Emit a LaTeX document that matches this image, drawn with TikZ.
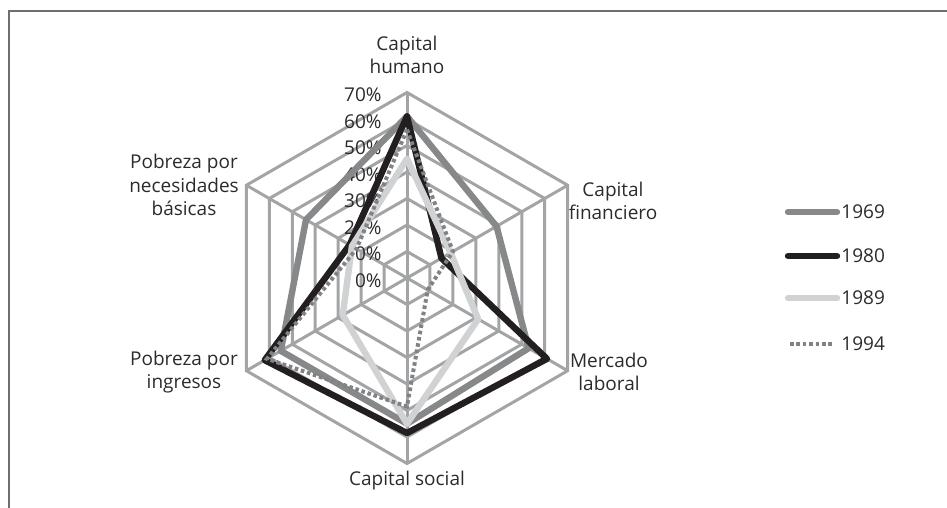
\documentclass[tikz,border=0pt]{standalone}
\usepackage{fontspec}
\setmainfont{Open Sans}
\usetikzlibrary{positioning}

\definecolor{gridgray}{HTML}{A3A4A6}
\definecolor{framegray}{HTML}{6D6E71}
\definecolor{textgray}{HTML}{2B2B2B}
\definecolor{c1969}{HTML}{87888A}
\definecolor{c1980}{HTML}{231F20}
\definecolor{c1989}{HTML}{D1D2D4}
\definecolor{c1994}{HTML}{808285}

\begin{document}
\begin{tikzpicture}[x=0.5pt, y=0.5pt,
	grid/.style={draw=gridgray, line width=1.5pt},
	axislabel/.style={align=center, text=textgray, inner sep=0pt, font=\fontsize{9.5}{11.8}\selectfont},
	ticklabel/.style={anchor=east, text=textgray, inner sep=0pt, font=\fontsize{9.5}{11}\selectfont},
	legtext/.style={anchor=west, text=textgray, inner sep=2pt, font=\fontsize{9.5}{11}\selectfont},
	serie/.style={line width=3.2pt, line join=round},
	dots/.style={line width=2pt, dash pattern=on 1.8pt off 1.4pt}]

	\useasboundingbox (0,0) rectangle (947,508);
	\draw[framegray, line width=1pt] (8.5,0) -- (8.5,497.3) -- (947,497.3);

	% axis labels
	\node[axislabel] (hum) at (407,453) {Capital\\humano};
	\node[axislabel] (fin) at (613,307) {Capital\\financiero};
	\node[axislabel] (lab) at (609,136) {Mercado\\laboral};
	\node[axislabel] (soc) at (407,27) {Capital social};
	\node[axislabel] (ing) at (184,136) {Pobreza por\\ingresos};
	\node[axislabel] (nbi) at (184,323) {Pobreza por\\necesidades\\básicas};

	\begin{scope}[shift={(407,230)}]
		% grid
		\foreach \r in {1,...,7}
			\draw[grid] (90:\r*26.5) -- (30:\r*26.5) -- (-30:\r*26.5) -- (-90:\r*26.5) -- (-150:\r*26.5) -- (150:\r*26.5) -- cycle;
		\foreach \a in {90,30,-30,-90,-150,150}
			\draw[grid] (0,0) -- (\a:185.5);

		% scale
		\foreach \i in {0,...,7} {
			\pgfmathtruncatemacro\p{\i*10}
			\node[ticklabel] (t\i) at (-25,{\i*26.5-2.5}) {\p\%};
		}

		% series
		\draw[serie, c1969] (90:{61*2.65}) -- (30:{39*2.65}) -- (-30:{53*2.65}) -- (-90:{55*2.65}) -- (-150:{55*2.65}) -- (150:{44*2.65}) -- cycle;
		\draw[serie, c1980] (90:{61*2.65}) -- (30:{15*2.65}) -- (-30:{61*2.65}) -- (-90:{58.5*2.65}) -- (-150:{62*2.65}) -- (150:{25*2.65}) -- cycle;
		\draw[serie, c1989] (90:{45*2.65}) -- (30:{19*2.65}) -- (-30:{31*2.65}) -- (-90:{55*2.65}) -- (-150:{28*2.65}) -- (150:{24*2.65}) -- cycle;
		\draw[dots, c1994] (90:{56*2.65}) -- (30:{20*2.65}) -- (-30:{9*2.65}) -- (-90:{48.5*2.65}) -- (-150:{61*2.65}) -- (150:{22*2.65}) -- cycle;
	\end{scope}

	% legend
	\node[legtext] (l1969) at (837,296) {1969};
	\node[legtext] (l1980) at (837,252) {1980};
	\node[legtext] (l1989) at (837,210) {1989};
	\node[legtext] (l1994) at (837,164) {1994};
	\coordinate (s1969) at (788,296);
	\coordinate (s1980) at (788,252);
	\coordinate (s1989) at (788,210);
	\coordinate (s1994) at (790,164);
	\draw[serie, c1969, line cap=round] (s1969) -- (l1969.west);
	\draw[serie, c1980, line cap=round] (s1980) -- (l1980.west);
	\draw[serie, c1989, line cap=round] (s1989) -- (l1989.west);
	\draw[dots, c1994] (s1994) -- ([xshift=-2pt]l1994.west);
\end{tikzpicture}
\end{document}
